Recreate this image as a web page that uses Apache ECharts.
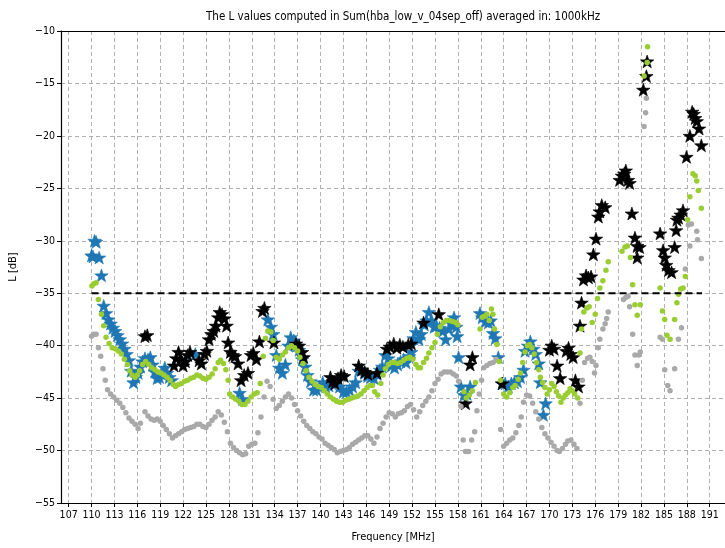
<!DOCTYPE html>
<html>
<head>
<meta charset="utf-8">
<script src="https://cdn.jsdelivr.net/npm/echarts@6/dist/echarts.min.js"></script>
<style>
  html, body { margin: 0; padding: 0; background: #fff; }
  #chart { width: 725px; height: 548px; }
</style>
</head>
<body>
<div id="chart"></div>
<script>
// Frequency [MHz], L [dB] pairs for each curve
const grayPoints = [
  [110.0,-39.1],[110.3,-38.9],[110.6,-38.9],[110.9,-40.2],[111.2,-41.0],[111.5,-42.2],[111.8,-43.3],[112.1,-44.2],
  [112.5,-44.6],[112.9,-44.9],[113.3,-45.2],[113.7,-45.5],[114.1,-45.9],[114.5,-46.4],[114.9,-46.9],[115.3,-47.2],
  [115.7,-47.5],[116.1,-47.9],[116.4,-47.4],[117.0,-46.3],[117.4,-46.7],[117.8,-47.0],[118.2,-47.1],[118.6,-47.0],
  [119.0,-47.2],[119.4,-47.6],[119.8,-48.0],[120.2,-48.4],[120.6,-48.8],[121.0,-48.6],[121.4,-48.4],[121.8,-48.2],
  [122.2,-48.0],[122.6,-47.9],[123.0,-47.8],[123.4,-47.7],[123.8,-47.5],[124.2,-47.5],[124.6,-47.7],[125.0,-47.8],
  [125.4,-47.5],[125.8,-47.1],[126.2,-46.8],[126.6,-46.3],[127.0,-46.6],[127.4,-47.3],[127.8,-48.2],[128.2,-49.3],
  [128.6,-49.7],[129.0,-50.0],[129.4,-50.2],[129.8,-50.4],[130.2,-50.3],[130.6,-49.6],[131.0,-49.4],[131.4,-49.3],
  [131.8,-48.3],[132.2,-46.8],[132.6,-44.9],[133.0,-43.4],[133.4,-43.9],[133.8,-45.1],[134.2,-46.0],[134.6,-45.7],
  [135.0,-45.3],[135.4,-44.9],[135.8,-44.6],[136.2,-45.0],[136.6,-45.6],[137.0,-46.2],[137.4,-46.7],[137.8,-47.2],
  [138.2,-47.6],[138.6,-47.9],[139.0,-48.2],[139.4,-48.4],[139.8,-48.7],[140.2,-48.9],[140.6,-49.3],[141.0,-49.5],
  [141.4,-49.7],[141.8,-49.9],[142.2,-50.2],[142.6,-50.1],[143.0,-50.0],[143.4,-49.9],[143.8,-49.7],[144.2,-49.4],
  [144.6,-49.2],[145.0,-49.0],[145.4,-48.8],[145.8,-48.6],[146.2,-48.6],[146.6,-48.9],[147.0,-49.3],[147.4,-48.7],
  [147.8,-47.9],[148.2,-47.4],[148.6,-46.8],[149.0,-46.4],[149.4,-46.5],[149.8,-46.8],[150.2,-46.5],[150.6,-46.4],
  [151.0,-46.2],[151.4,-45.8],[151.8,-45.6],[152.2,-46.1],[152.6,-46.8],[153.0,-46.3],[153.4,-45.7],[153.8,-45.3],
  [154.2,-44.9],[154.6,-44.3],[155.0,-43.6],[155.4,-43.2],[155.8,-42.7],[156.2,-42.5],[156.6,-42.5],[157.0,-42.5],
  [157.4,-42.7],[157.8,-42.9],[158.1,-43.4],[158.4,-45.8],[158.7,-49.0],[159.0,-50.1],[159.4,-50.1],[159.8,-49.0],
  [160.2,-48.2],[160.5,-46.2],[160.8,-44.6],[161.1,-43.3],[161.4,-42.1],[161.8,-41.9],[162.2,-41.7],[162.6,-41.6],
  [163.0,-41.3],[163.6,-48.0],[164.0,-49.6],[164.4,-49.3],[164.8,-49.0],[165.2,-48.8],[165.6,-48.3],[166.0,-47.6],
  [166.3,-46.8],[166.6,-45.4],[167.0,-44.7],[167.4,-44.8],[167.8,-45.5],[168.2,-46.3],[168.6,-47.0],[169.0,-47.8],
  [169.4,-48.4],[169.8,-48.8],[170.2,-49.2],[170.6,-49.6],[171.0,-50.0],[171.3,-50.1],[171.7,-49.8],[172.1,-49.4],
  [172.4,-49.1],[172.8,-49.0],[173.2,-49.4],[173.6,-49.8],[174.0,-45.5],[174.3,-43.3],[174.6,-41.6],[175.0,-41.2],
  [175.3,-41.1],[175.6,-41.5],[175.9,-42.6],[176.1,-41.9],[176.4,-40.2],[176.6,-39.4],[177.0,-38.4],[177.3,-37.9],
  [177.5,-37.4],[177.7,-36.8],[179.7,-35.6],[180.0,-35.4],[180.3,-35.3],[180.5,-36.3],[180.9,-38.9],[181.2,-40.9],
  [181.5,-41.9],[181.7,-40.9],[181.9,-40.6],[182.4,-19.1],[182.6,-17.8],[182.7,-16.4],[184.5,-39.2],[184.8,-39.4],
  [185.1,-42.3],[185.5,-43.8],[185.8,-44.3],[186.4,-42.2],[186.9,-39.4],[187.3,-38.3],[187.8,-32.7],[188.2,-28.5],
  [188.4,-30.5],[188.6,-28.4],[189.3,-29.1],[189.4,-29.9],[189.9,-31.7]
];

const greenPoints = [
  [110.05,-34.3],[110.3,-34.1],[110.6,-34.0],[110.9,-35.6],[111.3,-37.0],[111.6,-38.1],[111.9,-39.2],[112.3,-39.8],
  [112.7,-40.2],[113.1,-40.3],[113.5,-40.5],[113.9,-40.8],[114.3,-41.3],[114.7,-41.8],[115.0,-42.4],[115.3,-42.8],
  [115.7,-43.0],[116.0,-42.8],[116.3,-42.4],[116.7,-41.8],[117.1,-41.5],[117.5,-41.8],[117.9,-42.1],[118.3,-42.3],
  [118.7,-42.5],[119.1,-42.6],[119.5,-42.8],[119.9,-43.0],[120.3,-43.3],[120.7,-43.7],[121.0,-43.9],[121.4,-43.7],
  [121.8,-43.6],[122.2,-43.4],[122.6,-43.3],[123.0,-43.1],[123.4,-43.0],[123.8,-42.8],[124.2,-42.9],[124.6,-43.1],
  [125.0,-43.2],[125.4,-43.0],[125.8,-42.7],[126.2,-42.2],[126.6,-41.6],[126.9,-41.4],[127.3,-41.7],[127.6,-42.3],
  [127.9,-43.3],[128.1,-44.6],[128.5,-44.9],[128.9,-45.1],[129.3,-45.3],[129.7,-45.6],[130.1,-45.6],[130.5,-45.3],
  [130.9,-44.9],[131.3,-44.6],[131.7,-44.5],[132.1,-43.6],[132.5,-41.0],[132.8,-39.3],[133.1,-38.6],[133.5,-38.7],
  [133.8,-39.5],[134.2,-41.1],[134.6,-41.3],[135.0,-40.9],[135.4,-40.6],[135.8,-40.2],[136.2,-40.0],[136.6,-40.2],
  [137.0,-40.5],[137.3,-41.1],[137.7,-41.7],[138.1,-42.4],[138.5,-43.0],[138.9,-43.4],[139.3,-43.7],[139.7,-43.9],
  [140.1,-44.0],[140.5,-44.3],[140.9,-44.6],[141.3,-44.9],[141.7,-45.1],[142.1,-45.3],[142.5,-45.4],[142.9,-45.4],
  [143.3,-45.2],[143.7,-45.1],[144.1,-45.0],[144.5,-44.9],[144.9,-44.8],[145.3,-44.6],[145.7,-44.3],[146.1,-44.0],
  [146.5,-43.8],[146.8,-43.8],[147.1,-44.4],[147.5,-44.7],[147.9,-43.6],[148.2,-42.8],[148.5,-42.2],[148.9,-41.8],
  [149.3,-41.6],[149.7,-41.6],[150.1,-41.7],[150.5,-41.6],[150.9,-41.4],[151.3,-41.2],[151.7,-41.1],[152.1,-41.3],
  [152.5,-41.8],[152.8,-42.1],[153.1,-42.1],[153.5,-41.6],[153.9,-41.2],[154.2,-40.7],[154.6,-40.2],[155.0,-39.7],
  [155.3,-38.9],[155.7,-38.2],[156.1,-37.8],[156.5,-37.6],[156.9,-37.6],[157.3,-37.7],[157.7,-37.8],[158.0,-38.0],
  [158.8,-44.4],[159.1,-45.0],[159.5,-44.7],[159.9,-44.3],[160.3,-43.5],[160.9,-38.4],[161.2,-37.3],[161.5,-37.2],
  [161.8,-37.0],[162.1,-37.6],[162.4,-36.5],[162.6,-37.0],[162.8,-38.4],[163.1,-39.9],[163.4,-41.5],[163.6,-43.3],
  [164.0,-44.6],[164.4,-44.9],[164.8,-44.5],[165.2,-44.0],[165.5,-43.8],[165.9,-43.2],[166.2,-42.6],[166.5,-41.6],
  [166.8,-40.6],[167.1,-40.0],[167.4,-39.9],[167.7,-40.2],[168.0,-40.8],[168.3,-41.6],[168.6,-42.3],[168.8,-43.0],
  [169.1,-43.5],[169.4,-44.0],[169.7,-44.6],[170.0,-44.2],[170.3,-43.6],[170.6,-43.9],[170.9,-44.4],[171.2,-44.8],
  [171.5,-45.4],[171.8,-45.0],[172.1,-44.7],[172.4,-44.5],[172.7,-44.1],[173.0,-44.3],[173.3,-44.6],[173.7,-45.0],
  [174.0,-40.7],[174.2,-38.4],[174.5,-36.8],[174.9,-36.4],[175.2,-36.3],[175.6,-37.8],[176.0,-37.0],[176.3,-35.5],
  [176.6,-34.5],[177.0,-33.8],[177.4,-32.8],[177.7,-32.0],[179.5,-31.0],[179.9,-30.6],[180.2,-30.5],[180.6,-31.6],
  [180.9,-34.2],[181.2,-36.1],[181.5,-37.1],[181.9,-36.1],[182.4,-14.3],[182.8,-13.0],[182.85,-11.5],[184.5,-34.5],
  [184.8,-36.7],[185.1,-37.5],[185.4,-39.0],[185.8,-39.4],[186.4,-37.5],[186.7,-35.9],[186.9,-35.1],[187.2,-34.6],
  [187.5,-34.5],[187.8,-33.4],[188.1,-28.0],[188.4,-25.8],[188.8,-23.6],[189.1,-23.8],[189.3,-24.3],[189.5,-25.2],
  [189.9,-26.9]
];

const bluePoints = [
  [110.0,-31.4],[110.2,-31.5],[110.4,-30.0],[110.6,-30.1],[111.0,-31.6],[111.3,-33.3],[111.6,-36.2],[111.9,-36.9],
  [112.2,-37.5],[112.5,-37.9],[112.8,-38.3],[113.1,-38.6],[113.4,-39.0],[113.7,-39.4],[114.0,-39.8],[114.3,-40.3],
  [114.6,-40.8],[114.9,-41.4],[115.2,-42.4],[115.5,-43.5],[115.8,-43.0],[116.1,-42.6],[116.4,-42.0],[116.7,-41.5],
  [117.0,-41.2],[117.4,-41.3],[117.7,-41.1],[118.0,-41.8],[118.3,-42.5],[118.6,-43.1],[118.9,-43.0],[119.2,-42.7],
  [119.6,-42.1],[119.9,-42.6],[120.2,-43.0],[120.5,-43.3],[123.6,-40.8],[129.4,-44.5],[129.8,-45.1],[133.1,-37.5],
  [133.5,-38.2],[133.8,-38.9],[134.2,-40.9],[134.6,-42.1],[135.0,-42.6],[135.4,-41.8],[135.8,-40.0],[136.1,-39.2],
  [136.5,-39.5],[136.9,-40.0],[137.2,-40.4],[137.6,-41.3],[138.0,-42.0],[138.3,-42.8],[138.7,-43.4],[139.1,-44.2],
  [139.5,-44.2],[139.9,-43.9],[140.3,-43.5],[140.7,-43.9],[141.1,-43.8],[141.5,-43.6],[142.0,-43.5],[142.5,-43.9],
  [143.0,-44.4],[143.4,-44.4],[143.8,-44.2],[144.2,-43.9],[144.6,-43.5],[145.0,-42.4],[145.4,-42.3],[145.8,-42.6],
  [146.2,-42.9],[146.6,-43.0],[147.0,-43.1],[147.4,-42.7],[147.8,-42.3],[148.1,-42.0],[148.5,-40.9],[148.9,-41.2],
  [149.3,-41.9],[149.7,-42.1],[150.1,-41.8],[150.5,-41.5],[150.9,-41.3],[151.2,-41.6],[151.6,-41.0],[151.9,-40.6],
  [152.2,-39.3],[152.5,-38.7],[152.9,-39.4],[153.2,-38.9],[153.6,-38.0],[153.9,-37.6],[154.2,-36.8],[154.5,-37.6],
  [154.9,-38.2],[155.2,-38.1],[155.6,-38.3],[156.0,-38.6],[156.4,-39.4],[156.8,-38.4],[157.2,-37.9],[157.5,-37.3],
  [157.8,-38.2],[157.9,-39.1],[158.1,-41.1],[158.4,-43.9],[158.8,-44.7],[159.2,-44.6],[159.6,-43.9],[160.9,-36.9],
  [161.2,-37.3],[161.6,-37.7],[162.0,-37.8],[162.3,-37.6],[162.6,-38.8],[162.9,-39.3],[163.3,-41.1],[163.8,-43.6],
  [164.2,-43.6],[164.6,-43.9],[165.0,-43.6],[165.4,-43.5],[165.8,-43.4],[166.2,-43.0],[166.6,-42.3],[166.8,-40.5],
  [167.2,-40.0],[167.5,-39.6],[167.9,-40.3],[168.2,-40.8],[168.6,-41.7],[168.8,-43.5],[169.2,-46.6],[169.5,-45.5]
];

const blackPoints = [
  [117.0,-39.1],[117.3,-39.0],[120.8,-41.9],[121.1,-41.2],[121.4,-40.6],[121.7,-41.3],[122.0,-41.9],[122.3,-41.5],
  [122.6,-40.9],[122.9,-40.6],[124.1,-41.4],[124.4,-41.7],[124.8,-40.8],[125.1,-40.5],[125.4,-39.4],[125.7,-38.9],
  [126.0,-38.6],[126.3,-38.1],[126.6,-37.3],[126.8,-36.8],[127.1,-37.0],[127.4,-37.4],[127.7,-38.1],[127.9,-39.7],
  [128.2,-40.6],[128.5,-40.9],[128.8,-41.0],[129.2,-41.7],[129.6,-43.3],[130.0,-42.8],[130.5,-42.6],[130.9,-40.9],
  [131.2,-40.7],[131.6,-41.3],[132.0,-39.6],[132.4,-36.7],[132.65,-36.4],[133.9,-39.7],[136.8,-39.8],[137.2,-40.0],
  [137.6,-40.6],[137.8,-41.1],[141.3,-43.0],[141.6,-43.4],[141.9,-43.6],[142.3,-43.1],[142.7,-42.8],[143.1,-42.9],
  [145.0,-41.9],[145.4,-42.3],[145.8,-42.5],[146.2,-42.7],[147.4,-42.6],[148.7,-40.3],[149.1,-40.1],[149.6,-39.8],
  [150.0,-40.2],[150.4,-39.9],[150.8,-40.1],[151.5,-39.9],[151.9,-39.8],[153.5,-37.8],[155.5,-37.0],[159.0,-45.5],
  [159.6,-41.8],[159.9,-41.1],[163.8,-43.6],[170.0,-40.4],[170.3,-40.0],[170.6,-40.3],[171.0,-41.9],[171.4,-43.1],
  [172.2,-40.5],[172.5,-40.2],[172.8,-40.8],[173.1,-41.1],[173.4,-43.3],[173.8,-43.9],[174.0,-38.1],[174.2,-35.9],
  [174.45,-33.7],[174.8,-33.3],[175.1,-33.5],[175.45,-33.4],[175.75,-31.3],[176.1,-29.8],[176.4,-27.7],[176.6,-27.2],
  [176.85,-26.6],[177.3,-26.8],[179.2,-24.2],[179.5,-23.8],[179.8,-23.6],[180.0,-23.3],[180.3,-24.2],[180.5,-24.5],
  [180.8,-27.4],[181.2,-29.7],[181.5,-30.5],[181.8,-30.6],[181.5,-31.6],[182.3,-15.6],[182.7,-14.3],[182.8,-12.9],
  [184.5,-29.3],[184.9,-30.9],[185.1,-31.6],[185.3,-32.3],[185.6,-32.8],[186.0,-33.0],[186.4,-30.6],[186.6,-29.0],
  [186.7,-28.0],[186.9,-27.8],[187.2,-27.5],[187.5,-27.1],[187.95,-22.0],[188.4,-20.0],[188.7,-17.7],[188.9,-17.9],
  [189.1,-18.3],[189.3,-18.6],[189.6,-19.3],[189.9,-20.9]
];

// Reference level drawn as a dashed horizontal line
const thresholdLevel = -35;
const thresholdSpan = [110, 190];

const xTickValues = [107,110,113,116,119,122,125,128,131,134,137,140,143,146,149,152,155,158,161,164,167,170,173,176,179,182,185,188,191];
const titleText = 'The L values computed in Sum(hba_low_v_04sep_off) averaged in: 1000kHz';

const FONT = "'Liberation Sans Narrow', 'DejaVu Sans Condensed', 'DejaVu Sans', sans-serif";
const STAR = 'path://M0,-10L2.35,-3.24L9.51,-3.09L3.80,1.24L5.88,8.09L0,4L-5.88,8.09L-3.80,1.24L-9.51,-3.09L-2.35,-3.24Z';
const minusFmt = v => (v < 0 ? '\u2212' + Math.abs(v) : String(v));

const chart = echarts.init(document.getElementById('chart'), null, { renderer: 'canvas' });

const dotSeries = (name, data, color) => ({
  name, type: 'scatter', data,
  symbol: 'circle', symbolSize: 5.5,
  itemStyle: { color, opacity: 1 },
  silent: true, animation: false
});
const starSeries = (name, data, color, edge) => ({
  name, type: 'scatter', data,
  symbol: STAR, symbolSize: 13.5, symbolKeepAspect: true,
  itemStyle: { color, opacity: 1, borderColor: edge, borderWidth: 0.6 },
  silent: true, animation: false
});

chart.setOption({
  animation: false,
  backgroundColor: '#ffffff',
  textStyle: { fontFamily: FONT },
  grid: { left: 59, right: 0, top: 31, bottom: 41, containLabel: false },
  graphic: [{
    type: 'text', left: 394 - 188, top: 11,
    style: { text: titleText, fill: '#000', font: '11.5px ' + FONT }
  }],
  xAxis: [{
    type: 'value', min: 106, max: 193,
    name: 'Frequency [MHz]', nameLocation: 'middle', nameGap: 29,
    nameTextStyle: { color: '#000', fontSize: 11, fontFamily: FONT },
    axisLine: { show: true, onZero: false, lineStyle: { color: '#000', width: 1.2 } },
    axisTick: { show: true, inside: false, length: 4, customValues: xTickValues, lineStyle: { color: '#000' } },
    axisLabel: { customValues: xTickValues, color: '#000', fontSize: 10.5, margin: 7, fontFamily: FONT },
    splitLine: { show: true, lineStyle: { color: '#b0b0b0', type: [4, 3], width: 1 } }
  }, {
    type: 'value', min: 106, max: 193, position: 'top',
    axisLine: { show: true, onZero: false, lineStyle: { color: '#000', width: 1.2 } },
    axisTick: { show: false }, axisLabel: { show: false }, splitLine: { show: false }
  }],
  yAxis: {
    type: 'value', min: -55, max: -10, interval: 5,
    name: 'L [dB]', nameLocation: 'middle', nameGap: 42, nameRotate: 90,
    nameTextStyle: { color: '#000', fontSize: 11, fontFamily: FONT },
    axisLine: { show: true, onZero: false, lineStyle: { color: '#000', width: 1.2 } },
    axisTick: { show: true, length: 4, lineStyle: { color: '#000' } },
    axisLabel: { color: '#000', fontSize: 10.5, margin: 6, formatter: minusFmt, fontFamily: FONT },
    splitLine: { show: true, lineStyle: { color: '#b0b0b0', type: [4, 3], width: 1 } }
  },
  series: [
    starSeries('blue', bluePoints, '#1f77b4', '#1f77b4'),
    starSeries('black', blackPoints, '#000000', '#000000'),
    dotSeries('gray', grayPoints, '#a9a9a9'),
    dotSeries('green', greenPoints, '#9acd32'),
    {
      name: 'threshold', type: 'line',
      data: [[thresholdSpan[0], thresholdLevel], [thresholdSpan[1], thresholdLevel]],
      symbol: 'none', silent: true, animation: false,
      lineStyle: { color: '#000', width: 2, type: [7, 4] }, z: 5
    }
  ]
});
</script>
</body>
</html>
